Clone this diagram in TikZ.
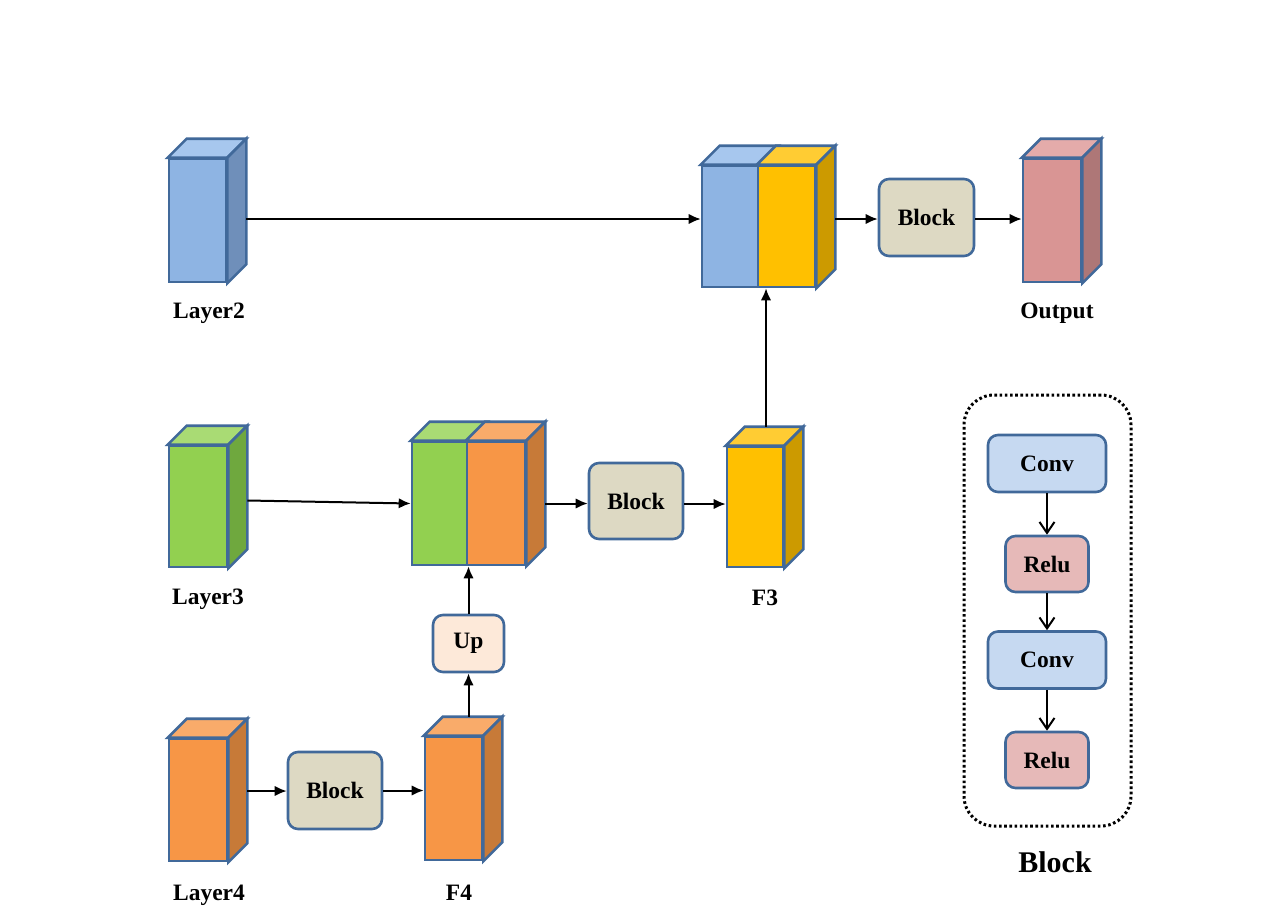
\documentclass[tikz,border=0pt]{standalone}
\usepackage{fontspec}
\setmainfont{Liberation Serif}
\usetikzlibrary{arrows.meta}
\definecolor{edgeblue}{HTML}{41699A}
\definecolor{blueF}{HTML}{8EB4E3}\definecolor{blueT}{HTML}{A7C7EE}\definecolor{blueS}{HTML}{6F8FBA}
\definecolor{greenF}{HTML}{92D050}\definecolor{greenT}{HTML}{A9DB74}\definecolor{greenS}{HTML}{6FA83E}
\definecolor{orangeF}{HTML}{F79646}\definecolor{orangeT}{HTML}{F9AB6A}\definecolor{orangeS}{HTML}{C77A38}
\definecolor{yellowF}{HTML}{FFC000}\definecolor{yellowT}{HTML}{FFCC33}\definecolor{yellowS}{HTML}{CC9A00}
\definecolor{pinkF}{HTML}{D99594}\definecolor{pinkT}{HTML}{E4ABAA}\definecolor{pinkS}{HTML}{AE7777}
\definecolor{blockfill}{HTML}{DDD9C3}
\definecolor{upfill}{HTML}{FDE9D9}
\definecolor{convfill}{HTML}{C6D9F1}
\definecolor{relufill}{HTML}{E6B9B8}
\newcommand\dep{19}
\newcommand\cubetopface[2]{\filldraw[cubeline, fill=#2] (#1.north west) -- ++(\dep,-\dep) -- ([shift={(\dep,-\dep)}]#1.north east) -- (#1.north east) -- cycle;}
\newcommand\cubesideface[2]{\filldraw[cubeline, fill=#2] (#1.north east) -- ++(\dep,-\dep) -- ([shift={(\dep,-\dep)}]#1.south east) -- (#1.south east) -- cycle;}
\tikzset{
  cubeline/.style={draw=edgeblue, line width=2.6pt, line join=miter},
  front/.style={cubeline, rectangle, inner sep=0pt, fill=#1},
  rbox/.style={draw=edgeblue, line width=2.6pt, rounded corners=10pt, fill=#1, inner sep=0pt,
     font=\fontsize{23.5}{27}\selectfont\bfseries},
  lbl/.style={font=\fontsize{23.5}{27}\selectfont\bfseries, anchor=base, inner sep=0pt},
  arr/.style={line width=2pt, -{Latex[length=12pt,width=10.5pt]}},
  barr/.style={line width=2pt, -{Straight Barb[length=11pt,width=15pt,line width=2pt]}},
}
\begin{document}
\begin{tikzpicture}[x=1pt,y=-1pt]
\useasboundingbox (0,0) rectangle (1274,918);
% ---- cuboids
\node[front=blueF, minimum width=57, minimum height=123] (L2) at (197.5,220.5) {};
\cubetopface{L2}{blueT}\cubesideface{L2}{blueS}
\node[front=greenF, minimum width=58, minimum height=121] (L3) at (198,506.5) {};
\cubetopface{L3}{greenT}\cubesideface{L3}{greenS}
\node[front=orangeF, minimum width=58, minimum height=122] (L4) at (198,800) {};
\cubetopface{L4}{orangeT}\cubesideface{L4}{orangeS}
\node[front=orangeF, minimum width=57, minimum height=123] (F4) at (453.5,798.5) {};
\cubetopface{F4}{orangeT}\cubesideface{F4}{orangeS}
\node[front=yellowF, minimum width=56, minimum height=120] (F3) at (755,507) {};
\cubetopface{F3}{yellowT}\cubesideface{F3}{yellowS}
\node[front=pinkF, minimum width=58, minimum height=123] (Out) at (1052,220.5) {};
\cubetopface{Out}{pinkT}\cubesideface{Out}{pinkS}
% concat top
\node[front=blueF, minimum width=56, minimum height=121] (C2a) at (730,226.5) {};
\node[front=yellowF, minimum width=57, minimum height=121] (C2b) at (786.5,226.5) {};
\cubetopface{C2a}{blueT}\cubetopface{C2b}{yellowT}\cubesideface{C2b}{yellowS}
% concat middle
\node[front=greenF, minimum width=55, minimum height=123] (C3a) at (439.5,503.5) {};
\node[front=orangeF, minimum width=58, minimum height=123] (C3b) at (496,503.5) {};
\cubetopface{C3a}{greenT}\cubetopface{C3b}{orangeT}\cubesideface{C3b}{orangeS}
% ---- boxes
\node[rbox=blockfill, minimum width=95, minimum height=77] (BlkT) at (926.5,217.5) {Block};
\node[rbox=blockfill, minimum width=94, minimum height=76] (BlkM) at (636,501) {Block};
\node[rbox=blockfill, minimum width=94, minimum height=77] (BlkB) at (335,790.5) {Block};
\node[rbox=upfill, minimum width=71, minimum height=57] (Up) at (468.5,643.5) {Up};
% ---- labels
\node[lbl] (tL2) at (209,318) {Layer2};
\node[lbl] (tOut) at (1057,318) {Output};
\node[lbl] (tL3) at (208,604) {Layer3};
\node[lbl] (tF3) at (765,605) {F3};
\node[lbl] (tL4) at (209,900) {Layer4};
\node[lbl] (tF4) at (459,900) {F4};
% ---- arrows
\coordinate (a2) at ([shift={(\dep,-1.5)}]L2.east);
\draw[arr] (a2) -- (a2 -| C2a.west);
\coordinate (a2b) at ([shift={(\dep,1.5)}]BlkT.west -| C2b.east);
\draw[arr] (a2b) -- (a2b -| BlkT.west);
\coordinate (bto) at ([shift={(0,1.5)}]BlkT.east);
\draw[arr] (bto) -- (bto -| Out.west);
\coordinate (f3t) at ([shift={(11,-\dep)}]F3.north);
\draw[arr] (f3t) -- (f3t |- C2b.south);
\coordinate (a3) at ([shift={(\dep,-6)}]L3.east);
\draw[arr] (a3) -- (C3a.west);
\coordinate (a3b) at ([xshift=\dep]C3b.east);
\draw[arr] (a3b) -- (a3b -| BlkM.west);
\coordinate (bmf) at ([shift={(0,3)}]BlkM.east);
\draw[arr] (bmf) -- (bmf -| F3.west);
\draw[arr] (Up.north) -- (Up.north |- C3a.south);
\coordinate (f4t) at ([shift={(0,-\dep)}]F4.north);
\draw[arr] (Up.south |- f4t) -- (Up.south);
\coordinate (a4) at ([shift={(\dep,-9)}]L4.east);
\draw[arr] (a4) -- (a4 -| BlkB.west);
\draw[arr] (BlkB.east) -- (BlkB.east -| F4.west);
% ---- legend
\node[draw=black, line width=3pt, dash pattern=on 2.6pt off 2.6pt, rounded corners=30pt,
  minimum width=167, minimum height=431, inner sep=0pt] (Leg) at (1047.5,610.5) {};
\node[rbox=convfill, minimum width=118, minimum height=57] (Cv1) at (1047,463.5) {Conv};
\node[rbox=relufill, minimum width=83, minimum height=56] (Rl1) at (1047,564) {Relu};
\node[rbox=convfill, minimum width=118, minimum height=57] (Cv2) at (1047,660) {Conv};
\node[rbox=relufill, minimum width=83, minimum height=56] (Rl2) at (1047,760) {Relu};
\draw[barr] (Cv1.south) -- (Rl1.north);
\draw[barr] (Rl1.south) -- (Cv2.north);
\draw[barr] (Cv2.south) -- (Rl2.north);
\node[font=\fontsize{30}{34}\selectfont\bfseries, anchor=base, inner sep=0pt] (tBlk) at (1055,872) {Block};
\end{tikzpicture}
\end{document}
